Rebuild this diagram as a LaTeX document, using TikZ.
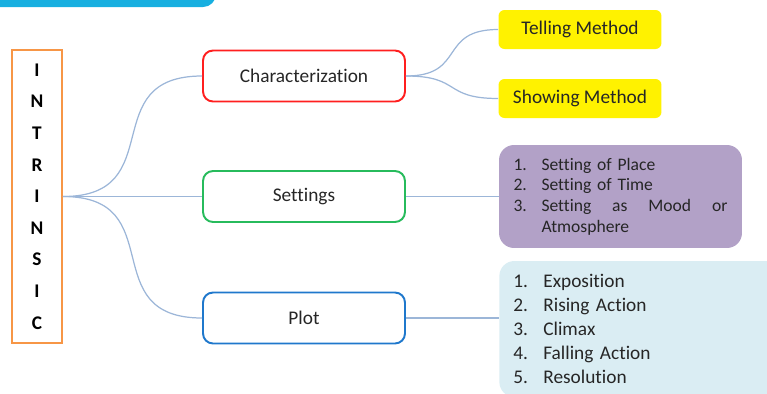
\documentclass[tikz,border=0pt]{standalone}
\usepackage{fontspec}
\setmainfont[Ligatures=NoCommon]{Carlito}
\usetikzlibrary{positioning}

\definecolor{bannerblue}{HTML}{17AFE0}
\definecolor{orng}{HTML}{F79646}
\definecolor{catred}{HTML}{FF1F1F}
\definecolor{catgreen}{HTML}{27BB5C}
\definecolor{catblue}{HTML}{1F78CC}
\definecolor{lilac}{HTML}{B2A1C7}
\definecolor{paleblue}{HTML}{DAEDF3}
\definecolor{linkblue}{HTML}{9CB6D8}
\definecolor{txt}{HTML}{262626}

\tikzstyle{intr}=[rectangle,draw=orng,line width=1.1pt,minimum width=1.0cm,minimum height=5.86cm,align=center,text=black,font=\bfseries\fontsize{11}{18}\selectfont]
\tikzstyle{cat}=[rectangle,fill=white,rounded corners=0.2cm,line width=1.1pt,minimum width=4.04cm,minimum height=1.02cm,text=txt,font=\fontsize{11}{13}\selectfont]
\tikzstyle{meth}=[rectangle,fill=yellow,rounded corners=0.12cm,minimum width=3.26cm,minimum height=0.78cm,text=txt,font=\fontsize{11}{13}\selectfont]
\tikzstyle{lst1}=[rectangle,fill=lilac,rounded corners=0.3cm,minimum width=4.86cm,minimum height=2.06cm,inner xsep=0.29cm,text width=4.28cm,align=left,text=txt,font=\fontsize{10}{11.8}\selectfont]
\tikzstyle{lst2}=[rectangle,fill=paleblue,rounded corners=0.3cm,minimum height=2.72cm,inner xsep=0.28cm,text width=5.46cm,align=left,text=txt,font=\fontsize{11}{13.6}\selectfont]
\tikzstyle{lnk}=[draw=linkblue,line width=0.7pt]

\begin{document}
\begin{tikzpicture}[x=0.02cm,y=-0.02cm]
\useasboundingbox (0,0) rectangle (767,393);

%Banner on top
\fill [bannerblue,rounded corners=0.26cm] (-20,-30) rectangle (216,7);

%Root
\node [intr] at (37,196.5) (in) {I\\N\\T\\R\\I\\N\\S\\I\\C};

%Three branches
\node [cat,draw=catred] at (304,76) (ch) {Characterization};
\node [cat,draw=catgreen] at (304,196.5) (se) {Settings};
\node [cat,draw=catblue] at (304,318) (pt) {Plot};

%Characterization: two methods
\node [meth] at (580,29.5) (te) {Telling Method};
\node [meth] at (580,98.5) (sh) {Showing Method};

%Settings list
\node [lst1] at (620.5,196.5) (sl) {\makebox[0.56cm][l]{1.}Setting of Place\\
\makebox[0.56cm][l]{2.}Setting of Time\\
\makebox[0.56cm][l]{3.}\hbox to 3.72cm{Setting\hfill as\hfill Mood\hfill or}\\
\hspace*{0.56cm}Atmosphere};

%Plot list
\node [lst2,anchor=west] at (499,329) (pl) {\makebox[0.6cm][l]{1.}Exposition\\
\makebox[0.6cm][l]{2.}Rising Action\\
\makebox[0.6cm][l]{3.}Climax\\
\makebox[0.6cm][l]{4.}Falling Action\\
\makebox[0.6cm][l]{5.}Resolution};

\draw [lnk] (in.east) to [out=0,in=180,looseness=1.5] (ch.west);
\draw [lnk] (in.east) -- (se.west);
\draw [lnk] (in.east) to [out=0,in=180,looseness=1.5] (pt.west);

\draw [lnk] (ch.east) to [out=0,in=180,looseness=1.5] (te.west);
\draw [lnk] (ch.east) to [out=0,in=180,looseness=1.5] (sh.west);

\draw [lnk] (se.east) -- (sl.west |- se.east);
\draw [lnk] (pt.east) -- (pl.west |- pt.east);

\end{tikzpicture}
\end{document}
